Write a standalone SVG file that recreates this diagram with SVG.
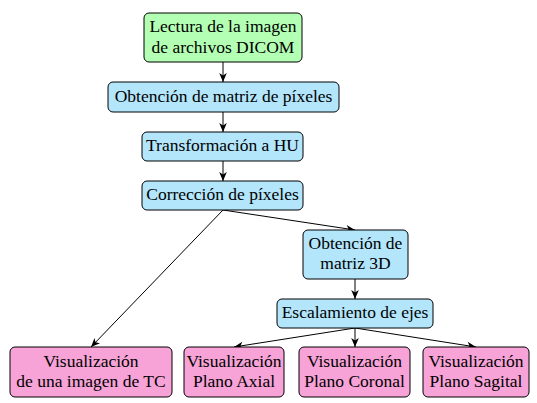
<svg xmlns="http://www.w3.org/2000/svg" width="537" height="403" viewBox="0 0 537 403">
<style>
.box{stroke:#000;stroke-width:1}
.g{fill:#b3ffb3}
.b{fill:#b3e5fb}
.p{fill:#f7a3d7}
.lbl{font-family:"Liberation Serif","Times New Roman",serif;font-size:17.5px;fill:#000;text-anchor:middle}
.c line{stroke:#000;stroke-width:1;fill:none;marker-end:url(#ah)}
</style>
<defs>
<marker id="ah" markerUnits="userSpaceOnUse" viewBox="-10 -5 11 10" refX="0" refY="0" markerWidth="11" markerHeight="10" orient="auto">
<path d="M0,0 L-9,-3.8 L-6.5,0 L-9,3.8 Z" fill="#000"/>
</marker>
</defs>
<rect width="537" height="403" fill="#fff"/>
<g class="c" id="connectors">
<line x1="223" y1="62" x2="223" y2="82"/>
<line x1="223" y1="112" x2="223" y2="132"/>
<line x1="223" y1="161" x2="223" y2="181"/>
<line x1="223" y1="210" x2="355" y2="230"/>
<line x1="223" y1="210" x2="91" y2="347"/>
<line x1="355" y1="279" x2="355" y2="299"/>
<line x1="355" y1="328" x2="234" y2="347"/>
<line x1="355" y1="328" x2="355" y2="347"/>
<line x1="355" y1="328" x2="476" y2="347"/>
</g>
<g id="n1"><rect class="box g" x="144" y="13" width="158" height="49" rx="5"/><text class="lbl" x="223" y="31.5">Lectura de la imagen</text><text class="lbl" x="223" y="52.5">de archivos DICOM</text></g>
<g id="n2"><rect class="box b" x="108" y="82" width="231" height="30" rx="5"/><text class="lbl" x="223.5" y="101.5">Obtención de matriz de píxeles</text></g>
<g id="n3"><rect class="box b" x="142" y="132" width="161" height="29" rx="5"/><text class="lbl" x="222.5" y="151">Transformación a HU</text></g>
<g id="n4"><rect class="box b" x="142" y="181" width="161" height="29" rx="5"/><text class="lbl" x="222.5" y="200">Corrección de píxeles</text></g>
<g id="n5"><rect class="box b" x="303" y="230" width="105" height="49" rx="5"/><text class="lbl" x="355.5" y="248.5">Obtención de</text><text class="lbl" x="355.5" y="268.5">matriz 3D</text></g>
<g id="n6"><rect class="box b" x="277" y="299" width="156" height="29" rx="5"/><text class="lbl" x="355" y="318">Escalamiento de ejes</text></g>
<g id="n7"><rect class="box p" x="10" y="347" width="162" height="50" rx="5"/><text class="lbl" x="91" y="366.5">Visualización</text><text class="lbl" x="91" y="386.5">de una imagen de TC</text></g>
<g id="n8"><rect class="box p" x="184" y="347" width="100" height="50" rx="5"/><text class="lbl" x="234" y="366.5">Visualización</text><text class="lbl" x="234" y="386.5">Plano Axial</text></g>
<g id="n9"><rect class="box p" x="299" y="347" width="111" height="50" rx="5"/><text class="lbl" x="354.5" y="366.5">Visualización</text><text class="lbl" x="354.5" y="386.5">Plano Coronal</text></g>
<g id="n10"><rect class="box p" x="423" y="347" width="106" height="50" rx="5"/><text class="lbl" x="476" y="366.5">Visualización</text><text class="lbl" x="476" y="386.5">Plano Sagital</text></g>
</svg>
